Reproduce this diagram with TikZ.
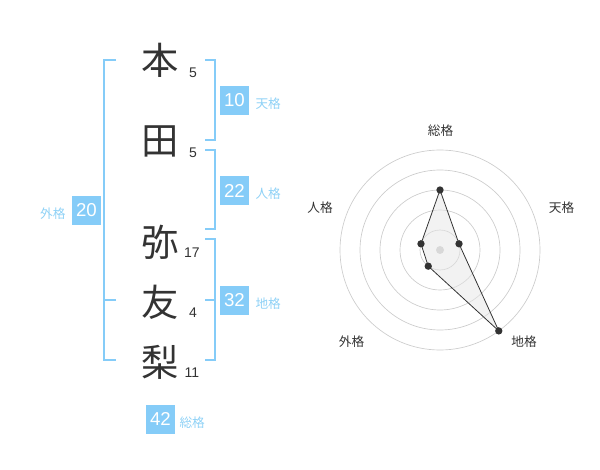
\documentclass[tikz,border=0pt]{standalone}
\usepackage{fontspec}
\setmainfont{Liberation Sans}
\newfontfamily\jp{Noto Sans CJK JP}
\usetikzlibrary{positioning}
\definecolor{kakublue}{HTML}{85CCF8}
\definecolor{kakutext}{HTML}{8ED1F6}
\definecolor{ink}{HTML}{333333}
\definecolor{ring}{HTML}{CCCCCC}

\begin{document}
\begin{tikzpicture}[x=0.75pt,y=-0.75pt,inner sep=0pt]
		\tikzstyle{kanji}=[text=ink,font=\jp\fontsize{28}{28}\selectfont]
		\tikzstyle{strokes}=[text=ink,font=\fontsize{10.5}{10.5}\selectfont]
		\tikzstyle{kakubox}=[fill=kakublue,text=white,minimum size=21.75pt,font=\fontsize{14}{14}\selectfont]
		\tikzstyle{kakulabel}=[text=kakutext,font=\jp\fontsize{9.5}{9.5}\selectfont]
		\tikzstyle{bracket}=[draw=kakublue,line width=1.5pt]
		\tikzstyle{axislabel}=[text=ink,font=\jp\fontsize{9.5}{9.5}\selectfont]
		\tikzstyle{dot}=[circle,fill=ink,minimum size=5.5pt]
		
		\useasboundingbox (0,0) rectangle (600,470);
		
		% name
		\node[kanji] (c1) at (160,60) {本};
		\node[kanji] (c2) at (160,141) {田};
		\node[kanji] (c3) at (160,242) {弥};
		\node[kanji] (c4) at (160,302) {友};
		\node[kanji] (c5) at (160,362) {梨};
		\node[strokes] (s1) at (193,73) {5};
		\node[strokes] (s2) at (193,153) {5};
		\node[strokes] (s3) at (192,253) {17};
		\node[strokes] (s4) at (193,313) {4};
		\node[strokes] (s5) at (192,373) {11};
		
		% brackets
		\coordinate (t1) at (205,60);
		\coordinate (t2) at (205,140);
		\coordinate (j1) at (205,150);
		\coordinate (j2) at (205,229.5);
		\coordinate (d1) at (205,239.5);
		\coordinate (dm) at (205,300);
		\coordinate (d2) at (205,360);
		\coordinate (g1) at (116,60);
		\coordinate (gm) at (116,300);
		\coordinate (g2) at (116,360);
		\draw[bracket] (t1) -- ++(9.5,0) |- (t2);
		\draw[bracket] (j1) -- ++(9.5,0) |- (j2);
		\draw[bracket] (d1) -- ++(9.5,0) |- (d2);
		\draw[bracket] (dm) -- ++(9.5,0);
		\draw[bracket] (g1) -- ++(-12,0) |- (g2);
		\draw[bracket] (gm) -- ++(-12,0);
		
		% kaku
		\node[kakubox] (ten) at (234.5,100.5) {10};
		\node[kakulabel] (tenl) [right=4.5pt of ten,yshift=-2.5pt] {天格};
		\node[kakubox] (jin) at (234.5,190.5) {22};
		\node[kakulabel] (jinl) [right=4.5pt of jin,yshift=-2.5pt] {人格};
		\node[kakubox] (chi) at (234.5,300.5) {32};
		\node[kakulabel] (chil) [right=4.5pt of chi,yshift=-2.5pt] {地格};
		\node[kakubox] (gai) at (86.5,210.5) {20};
		\node[kakulabel] (gail) [left=4.5pt of gai,yshift=-2.5pt] {外格};
		\node[kakubox] (sou) at (160.5,419) {42};
		\node[kakulabel] (soul) [right=3pt of sou,yshift=-2.5pt] {総格};
		
		% radar
		\node[axislabel] (ax1) at (440.5,130.5) {総格};
		\node[axislabel] (ax2) at (561.5,208) {天格};
		\node[axislabel] (ax3) at (524,342) {地格};
		\node[axislabel] (ax4) at (351.5,342) {外格};
		\node[axislabel] (ax5) at (320,208) {人格};
		\begin{scope}[shift={(440,250)},y=0.75pt]
			\path[draw=ring,line width=0.5pt]
			(0,0) circle[radius=20]
			(0,0) circle[radius=40]
			(0,0) circle[radius=60]
			(0,0) circle[radius=80]
			(0,0) circle[radius=100];
			\node[circle,fill=ring,minimum size=6pt] (ctr) at (0,0) {};
			\coordinate (p1) at (90:60);
			\coordinate (p2) at (18:20);
			\coordinate (p3) at (-54:100);
			\coordinate (p4) at (-126:20);
			\coordinate (p5) at (162:20);
			\draw[ink,line width=0.6pt,fill=black!10,fill opacity=0.5] (p1) -- (p2) -- (p3) -- (p4) -- (p5) -- cycle;
			\node[dot] (v1) at (p1) {};
			\node[dot] (v2) at (p2) {};
			\node[dot] (v3) at (p3) {};
			\node[dot] (v4) at (p4) {};
			\node[dot] (v5) at (p5) {};
		\end{scope}
	\end{tikzpicture}
\end{document}
